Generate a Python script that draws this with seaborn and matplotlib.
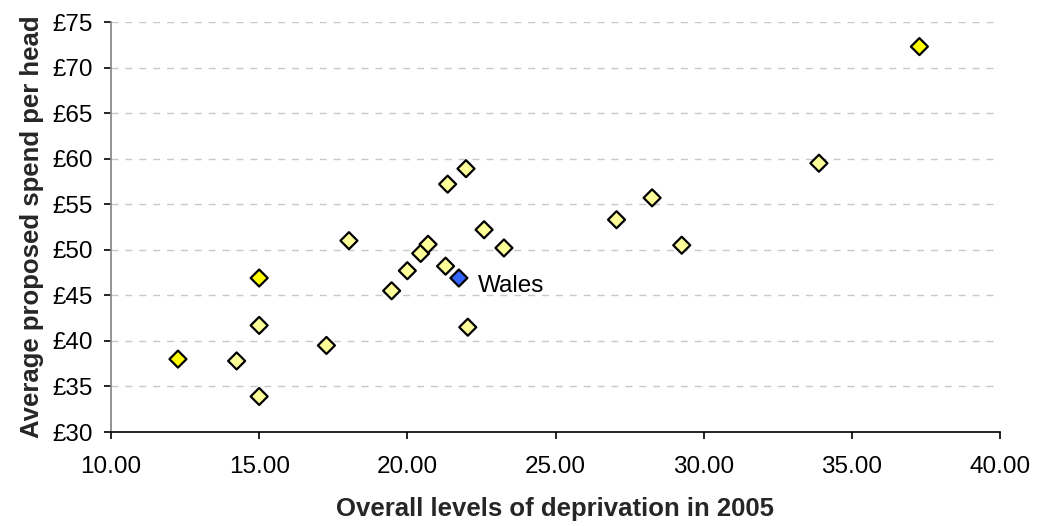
import matplotlib
matplotlib.use("Agg")
import matplotlib.pyplot as plt
import seaborn as sns
import pandas as pd

# Deprivation score (2005) and average proposed spend per head (£)
deprivation = [12.26, 14.24, 15.00, 15.00, 15.00, 17.27, 18.03, 19.47, 20.00,
               20.45, 20.70, 21.29, 21.36, 21.98, 22.04, 22.59, 23.26, 27.06,
               28.26, 29.26, 33.89, 37.28, 21.74]
spend = [38.0, 37.8, 46.9, 41.7, 33.9, 39.5, 51.0, 45.5, 47.7,
         49.6, 50.6, 48.2, 57.2, 58.9, 41.5, 52.2, 50.2, 53.3,
         55.7, 50.5, 59.5, 72.3, 46.9]
group = ["high", "other", "high", "other", "other", "other", "other", "other", "other",
         "other", "other", "other", "other", "other", "other", "other", "other", "other",
         "other", "other", "other", "high", "Wales"]

y_ticks = [30, 35, 40, 45, 50, 55, 60, 65, 70, 75]
x_ticks = [10, 15, 20, 25, 30, 35, 40]

df = pd.DataFrame({"deprivation": deprivation, "spend": spend, "group": group})
palette = {"other": "#FFFF99", "high": "#FFFF00", "Wales": "#3366FF"}

sns.set_theme(style="white")
plt.rcParams["font.family"] = ["Liberation Sans", "DejaVu Sans"]

fig = plt.figure(figsize=(10.4, 5.26), dpi=100)
ax = fig.add_axes([111 / 1040, 1 - 432 / 526, (1000 - 111) / 1040, (432 - 22) / 526])

sns.scatterplot(data=df, x="deprivation", y="spend", hue="group", palette=palette,
                marker="D", s=75, edgecolor="black", linewidth=1.6, legend=False,
                ax=ax, zorder=3)

wales = df[df["group"] == "Wales"].iloc[0]
ax.annotate("Wales", (wales["deprivation"], wales["spend"]), xytext=(14, -6),
            textcoords="offset points", fontsize=17.5, color="black", va="center",
            ha="left")

ax.set_xlim(10, 40)
ax.set_ylim(30, 75)
ax.set_xticks(x_ticks)
ax.set_xticklabels([f"{v:.2f}" for v in x_ticks])
ax.set_yticks(y_ticks)
ax.set_yticklabels([f"£{v}" for v in y_ticks])

ax.yaxis.grid(True, linestyle=(0, (5, 5)), color="#c8c8c8", linewidth=1)
ax.xaxis.grid(False)
ax.set_axisbelow(True)

for side in ("top", "right"):
    ax.spines[side].set_visible(False)
ax.spines["left"].set_color("#808080")
ax.spines["bottom"].set_color("black")
ax.spines["left"].set_linewidth(1.2)
ax.spines["bottom"].set_linewidth(1.2)

ax.tick_params(axis="both", which="major", labelsize=17.5, length=5, direction="out",
               left=True, bottom=True, colors="black", width=1.2)
ax.tick_params(axis="y", pad=8)
ax.tick_params(axis="x", pad=12)

ax.set_xlabel("Overall levels of deprivation in 2005", fontsize=18.5, fontweight="bold",
              labelpad=14)
ax.set_ylabel("Average proposed spend per head", fontsize=18.5, fontweight="bold",
              labelpad=6)

fig.savefig("out.png", dpi=100)
